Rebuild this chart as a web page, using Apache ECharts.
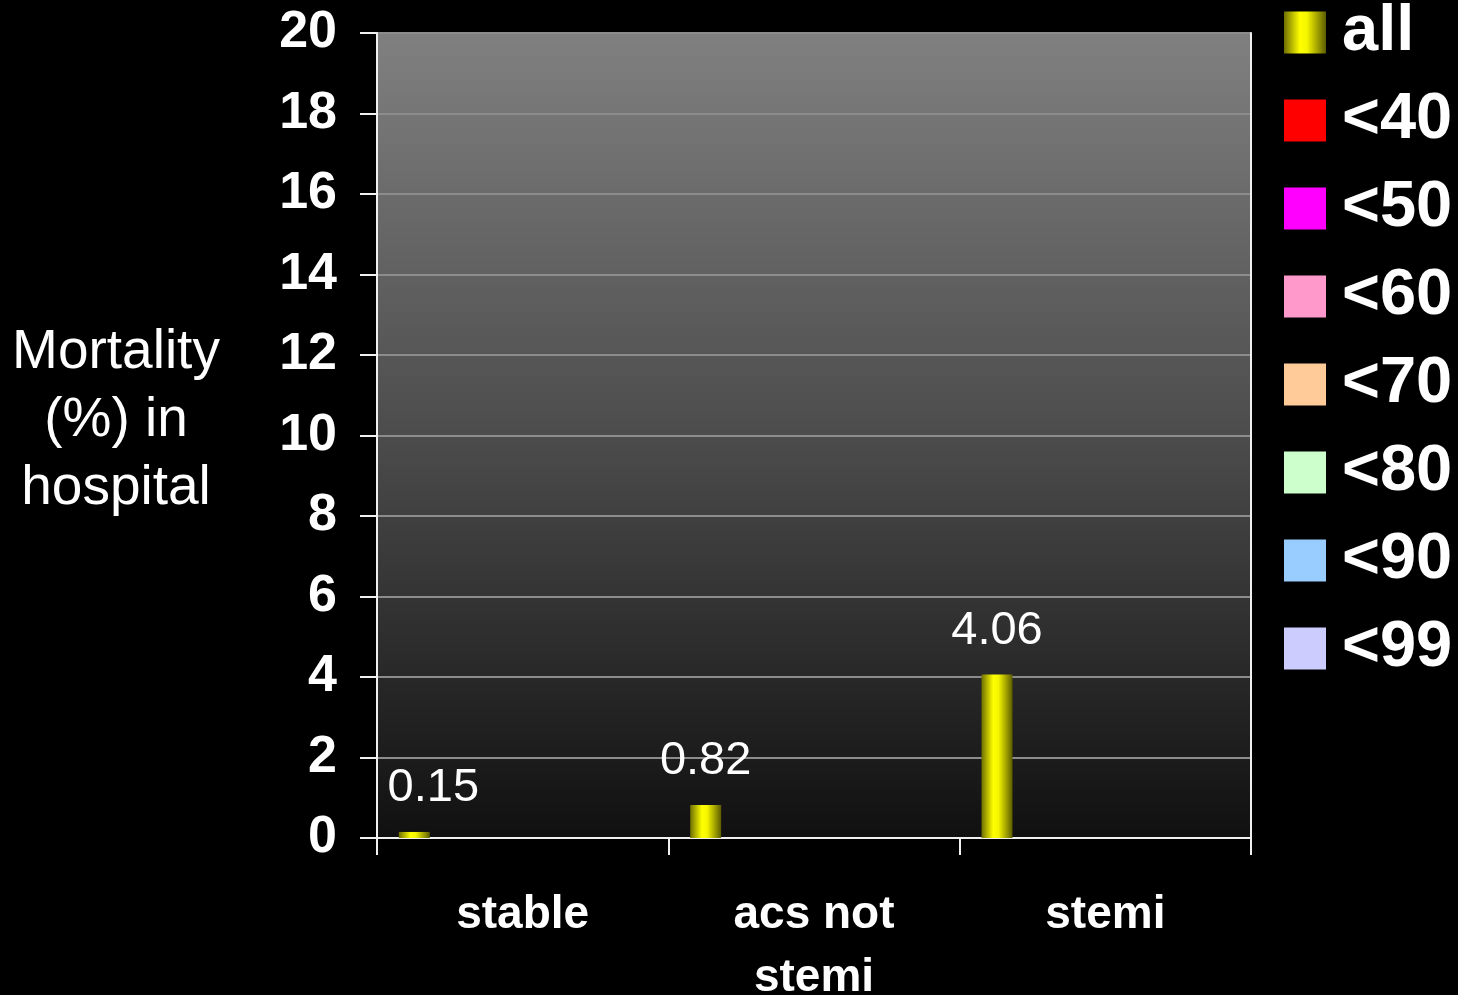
<!DOCTYPE html>
<html>
<head>
<meta charset="utf-8">
<script src="https://cdn.jsdelivr.net/npm/echarts@6/dist/echarts.min.js"></script>
<style>
html,body{margin:0;padding:0;background:#000;}
#c{width:1458px;height:995px;}
</style>
</head>
<body>
<div id="c"></div>
<script>
const categories = ['stable', 'acs not\nstemi', 'stemi'];
const seriesNames = ['all', '<40', '<50', '<60', '<70', '<80', '<90', '<99'];
const allValues = [0.15, 0.82, 4.06];
const lt40 = [null, null, null];
const lt50 = [null, null, null];
const lt60 = [null, null, null];
const lt70 = [null, null, null];
const lt80 = [null, null, null];
const lt90 = [null, null, null];
const lt99 = [null, null, null];
const yTicks = [0, 2, 4, 6, 8, 10, 12, 14, 16, 18, 20];
const yAxisTitle = 'Mortality\n(%) in\nhospital';

const FONT = '"Liberation Sans", Arial, sans-serif';
const colors = ['#ffff00', '#ff0000', '#ff00ff', '#ff99cc', '#ffcc99', '#ccffcc', '#99ccff', '#ccccff'];
const barGradient = {
  type: 'linear', x: 0, y: 0, x2: 1, y2: 0,
  colorStops: [
    {offset: 0, color: '#6e6e00'},
    {offset: 0.38, color: '#ffff00'},
    {offset: 0.55, color: '#f5f500'},
    {offset: 1, color: '#5c5c00'}
  ]
};
const otherData = [lt40, lt50, lt60, lt70, lt80, lt90, lt99];

const chart = echarts.init(document.getElementById('c'));
const series = [{
  name: seriesNames[0],
  type: 'bar',
  barGap: '0%',
  barCategoryGap: '15%',
  itemStyle: {color: barGradient},
  label: {
    show: true, position: 'top', distance: 20,
    color: '#fff', fontFamily: FONT, fontSize: 47,
    formatter: p => p.value.toFixed(2)
  },
  data: allValues.map((v, i) => i === 0 ? {value: v, label: {offset: [19, 0]}} : v)
}];
otherData.forEach((d, k) => {
  series.push({
    name: seriesNames[k + 1],
    type: 'bar',
    barGap: '0%',
    barCategoryGap: '15%',
    itemStyle: {color: colors[k + 1]},
    data: d
  });
});

chart.setOption({
  backgroundColor: '#000',
  animation: false,
  grid: {
    left: 377, top: 33, width: 874, height: 805,
    outerBoundsMode: 'none',
    containLabel: false,
    show: true, borderWidth: 0,
    backgroundColor: {
      type: 'linear', x: 0, y: 0, x2: 0, y2: 1,
      colorStops: [
        {offset: 0, color: '#808080'},
        {offset: 0.5, color: '#4c4c4c'},
        {offset: 1, color: '#101010'}
      ]
    }
  },
  legend: {
    orient: 'vertical',
    left: 1284, top: 0,
    padding: 0,
    itemWidth: 42, itemHeight: 42, itemGap: 23,
    itemTextGap: 6,
    icon: 'rect',
    data: seriesNames,
    textStyle: {color: '#fff', fontFamily: FONT, fontSize: 65, fontWeight: 'bold', padding: [0, 0, 0, 11]}
  },
  xAxis: {
    type: 'category',
    data: categories,
    axisLine: {lineStyle: {color: '#f0f0f0', width: 2}},
    axisTick: {show: true, length: 17, lineStyle: {color: '#f0f0f0', width: 2}},
    axisLabel: {color: '#fff', fontFamily: FONT, fontSize: 46, fontWeight: 'bold', lineHeight: 63, margin: 46}
  },
  yAxis: [{
    type: 'value', min: 0, max: 20, interval: 2,
    axisLine: {show: true, lineStyle: {color: '#f0f0f0', width: 2}},
    axisTick: {show: true, length: 17, lineStyle: {color: '#f0f0f0', width: 2}},
    axisLabel: {color: '#fff', fontFamily: FONT, fontSize: 52, fontWeight: 'bold', margin: 40,
      formatter: v => yTicks.indexOf(v) >= 0 ? String(v) : ''},
    splitLine: {show: true, lineStyle: {color: '#8c8c8c', width: 2}}
  }, {
    type: 'value', min: 0, max: 20, interval: 2, position: 'right',
    axisLine: {show: true, lineStyle: {color: '#f0f0f0', width: 2}},
    axisTick: {show: false}, axisLabel: {show: false}, splitLine: {show: false}
  }],
  graphic: [{
    type: 'text',
    x: 116, y: 421,
    style: {
      text: yAxisTitle, fill: '#fff', font: '55px ' + FONT,
      textAlign: 'center', textVerticalAlign: 'middle', lineHeight: 68
    }
  }],
  series: series
});
</script>
</body>
</html>
